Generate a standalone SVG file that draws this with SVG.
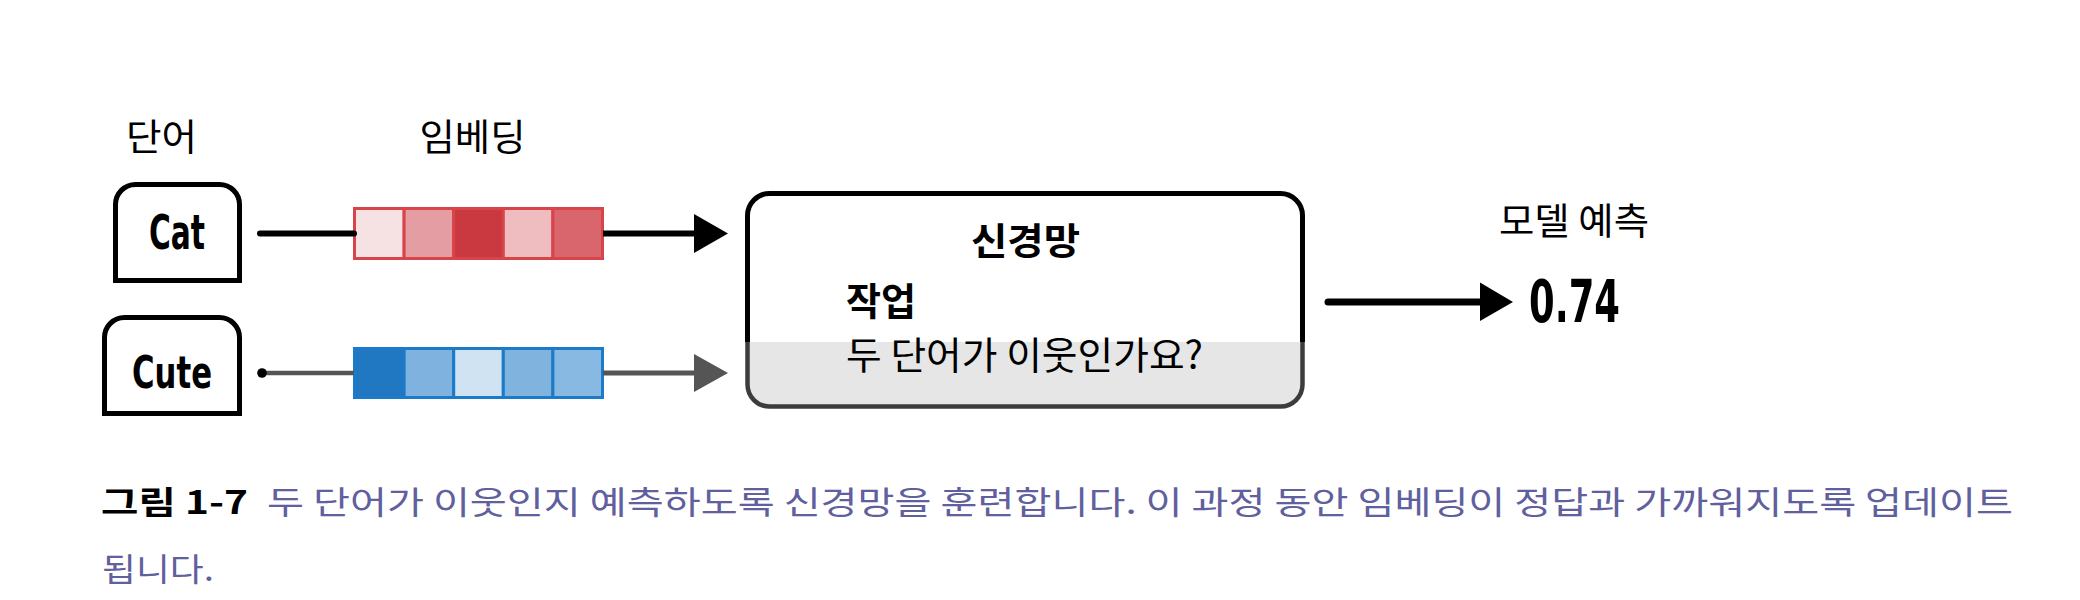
<svg xmlns="http://www.w3.org/2000/svg" width="2080" height="600" viewBox="0 0 2080 600">
<style>
.ko{font-family:"Noto Sans CJK KR","Noto Sans",sans-serif;fill:#000}
.lat{font-family:"DejaVu Sans Condensed","DejaVu Sans",sans-serif;font-weight:bold;font-stretch:condensed;fill:#000}
.b{font-weight:bold}
.box{fill:#fff;stroke:#000;stroke-width:5}
.red{stroke:#d9434a;stroke-width:3}
.blue{stroke:#1c7ac8;stroke-width:3}
.cap{font-family:"Noto Sans CJK KR","Noto Sans",sans-serif;font-size:32px}
</style>
<rect width="2080" height="600" fill="#fff"/>

<g id="labels">
<text class="ko" x="161.5" y="151" font-size="37" text-anchor="middle" textLength="71" lengthAdjust="spacingAndGlyphs">단어</text>
<text class="ko" x="472.5" y="151" font-size="37" text-anchor="middle" textLength="106" lengthAdjust="spacingAndGlyphs">임베딩</text>
</g>

<g id="node-cat">
<path class="box" d="M115.5,280.5 V204.5 A20,20 0 0 1 135.5,184.5 H219.5 A20,20 0 0 1 239.5,204.5 V280.5 Z"/>
<text class="lat" x="177" y="249" font-size="48" text-anchor="middle" textLength="56" lengthAdjust="spacingAndGlyphs">Cat</text>
</g>

<g id="node-cute">
<path class="box" d="M104.5,413.5 V337.5 A20,20 0 0 1 124.5,317.5 H219.5 A20,20 0 0 1 239.5,337.5 V413.5 Z"/>
<text class="lat" x="172" y="388" font-size="44" text-anchor="middle" textLength="80" lengthAdjust="spacingAndGlyphs">Cute</text>
</g>

<g id="embedding-cat">
<rect class="red" x="354.5" y="208.5" width="49.6" height="50" fill="#f6e2e3"/>
<rect class="red" x="404.1" y="208.5" width="49.6" height="50" fill="#e49ea3"/>
<rect class="red" x="453.7" y="208.5" width="49.6" height="50" fill="#c9393f"/>
<rect class="red" x="503.3" y="208.5" width="49.6" height="50" fill="#efbcbf"/>
<rect class="red" x="552.9" y="208.5" width="49.6" height="50" fill="#d9666c"/>
</g>

<g id="embedding-cute">
<rect class="blue" x="354.5" y="348.5" width="49.6" height="49" fill="#1f78c1"/>
<rect class="blue" x="404.1" y="348.5" width="49.6" height="49" fill="#7fb2de"/>
<rect class="blue" x="453.7" y="348.5" width="49.6" height="49" fill="#cfe3f3"/>
<rect class="blue" x="503.3" y="348.5" width="49.6" height="49" fill="#80b4df"/>
<rect class="blue" x="552.9" y="348.5" width="49.6" height="49" fill="#88b9e2"/>
</g>

<g id="node-network">
<path d="M747.5,342 V384.5 A22,22 0 0 0 769.5,406.5 H1280.5 A22,22 0 0 0 1302.5,384.5 V342 Z" fill="#e6e6e6"/>
<path d="M747.5,342 V215.5 A22,22 0 0 1 769.5,193.5 H1280.5 A22,22 0 0 1 1302.5,215.5 V342" fill="none" stroke="#000" stroke-width="5"/>
<path d="M747.5,342 V384.5 A22,22 0 0 0 769.5,406.5 H1280.5 A22,22 0 0 0 1302.5,384.5 V342" fill="none" stroke="#3c3c3c" stroke-width="4.5"/>
<text class="ko b" x="1025.5" y="255" font-size="37" text-anchor="middle" textLength="109" lengthAdjust="spacingAndGlyphs">신경망</text>
<text class="ko b" x="846" y="315" font-size="38" textLength="70" lengthAdjust="spacingAndGlyphs">작업</text>
<text class="ko" x="846" y="369" font-size="38" textLength="357" lengthAdjust="spacingAndGlyphs">두 단어가 이웃인가요?</text>
</g>

<g id="node-prediction">
<text class="ko" x="1499" y="235" font-size="37" textLength="150" lengthAdjust="spacingAndGlyphs">모델 예측</text>
<text class="lat" x="1529" y="322" font-size="58" textLength="91" lengthAdjust="spacingAndGlyphs">0.74</text>
</g>

<g id="connectors">
<line x1="260" y1="233.5" x2="354" y2="233.5" stroke="#000" stroke-width="6" stroke-linecap="round"/>
<line x1="603" y1="233.5" x2="698" y2="233.5" stroke="#000" stroke-width="6"/>
<polygon points="694,214 728,233.5 694,253" fill="#000"/>
<line x1="262" y1="373" x2="354" y2="373" stroke="#555" stroke-width="4.5"/>
<circle cx="262" cy="373" r="4.8" fill="#000"/>
<line x1="603" y1="373" x2="698" y2="373" stroke="#555" stroke-width="5"/>
<polygon points="694,354 728,373 694,392" fill="#555"/>
<line x1="1328" y1="302" x2="1484" y2="302" stroke="#000" stroke-width="7" stroke-linecap="round"/>
<polygon points="1480,282.5 1513,302 1480,321" fill="#000"/>
</g>

<g id="caption">
<text class="cap b" x="101" y="514" fill="#000" font-size="34" textLength="147" lengthAdjust="spacingAndGlyphs">그림 1-7</text>
<text class="cap" x="267" y="514" fill="#5f609d" font-size="33" textLength="1746" lengthAdjust="spacingAndGlyphs">두 단어가 이웃인지 예측하도록 신경망을 훈련합니다. 이 과정 동안 임베딩이 정답과 가까워지도록 업데이트</text>
<text class="cap" x="102" y="581" fill="#5f609d" font-size="33" textLength="112" lengthAdjust="spacingAndGlyphs">됩니다.</text>
</g>
</svg>
